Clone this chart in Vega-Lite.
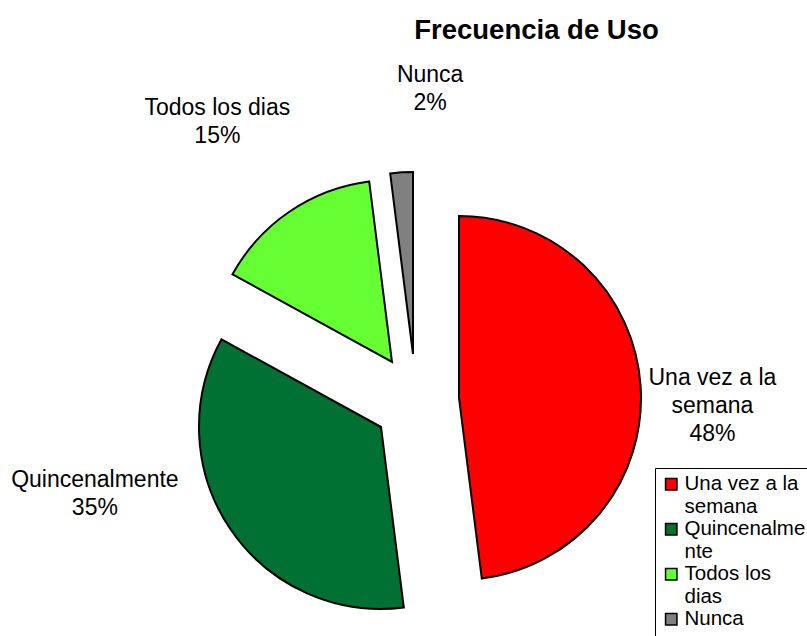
{
  "$schema": "https://vega.github.io/schema/vega-lite/v6.json",
  "width": 807,
  "height": 596,
  "padding": {"top": 40, "left": 0, "right": 0, "bottom": 0},
  "autosize": {"type": "none"},
  "background": "white",
  "title": {"text": "Frecuencia de Uso", "fontSize": 27.5, "fontWeight": "bold", "font": "Liberation Sans", "anchor": "middle", "dx": 133, "dy": 48, "color": "black", "offset": 4},
  "data": {"values": [
    {"categoria": "Una vez a la semana", "porcentaje": 48, "etiqueta": "Una vez a la|semana|48%"},
    {"categoria": "Quincenalmente", "porcentaje": 35, "etiqueta": "Quincenalmente|35%"},
    {"categoria": "Todos los dias", "porcentaje": 15, "etiqueta": "Todos los dias|15%"},
    {"categoria": "Nunca", "porcentaje": 2, "etiqueta": "Nunca|2%"}
  ]},
  "encoding": {
    "theta": {"field": "porcentaje", "type": "quantitative", "stack": true},
    "order": {"field": "porcentaje", "type": "quantitative", "sort": "descending"},
    "color": {"field": "categoria", "type": "nominal",
      "scale": {"domain": ["Una vez a la semana", "Quincenalmente", "Todos los dias", "Nunca"], "range": ["#FF0000", "#007033", "#66FF33", "#808080"]},
      "legend": {"title": null, "orient": "none", "legendX": 655, "legendY": 428, "strokeColor": "black", "fillColor": "white", "padding": 6, "symbolType": "square", "symbolSize": 130, "symbolStrokeColor": "black", "symbolStrokeWidth": 1.5, "symbolOpacity": 1, "labelFont": "Liberation Sans", "labelFontSize": 20.5, "labelColor": "black", "labelLimit": 200, "rowPadding": 1, "labelOffset": 3,
        "labelExpr": "datum.label == 'Una vez a la semana' ? ['Una vez a la', 'semana'] : datum.label == 'Quincenalmente' ? ['Quincenalme', 'nte'] : datum.label == 'Todos los dias' ? ['Todos los', 'dias'] : datum.label"}
    }
  },
  "layer": [
    {"mark": {"type": "arc", "outerRadius": 182, "stroke": "black", "strokeWidth": 2, "xOffset": 55.5, "yOffset": 60},
     "encoding": {"opacity": {"condition": {"test": "datum.categoria === 'Una vez a la semana'", "value": 1}, "value": 0}}},
    {"mark": {"type": "arc", "outerRadius": 182, "stroke": "black", "strokeWidth": 2, "xOffset": -22.5, "yOffset": 89},
     "encoding": {"opacity": {"condition": {"test": "datum.categoria === 'Quincenalmente'", "value": 1}, "value": 0}}},
    {"mark": {"type": "arc", "outerRadius": 182, "stroke": "black", "strokeWidth": 2, "xOffset": -11.5, "yOffset": 24},
     "encoding": {"opacity": {"condition": {"test": "datum.categoria === 'Todos los dias'", "value": 1}, "value": 0}}},
    {"mark": {"type": "arc", "outerRadius": 182, "stroke": "black", "strokeWidth": 2, "xOffset": 9.5, "yOffset": 16},
     "encoding": {"opacity": {"condition": {"test": "datum.categoria === 'Nunca'", "value": 1}, "value": 0}}},
    {"mark": {"type": "text", "radius": 300, "font": "Liberation Sans", "fontSize": 23, "lineBreak": "|", "lineHeight": 28, "align": "center", "baseline": "middle", "xOffset": 12.5, "yOffset": 65, "dx": -3, "dy": -6},
     "encoding": {"text": {"field": "etiqueta"}, "color": {"value": "black"}, "opacity": {"condition": {"test": "datum.categoria === 'Una vez a la semana'", "value": 1}, "value": 0}}},
    {"mark": {"type": "text", "radius": 300, "font": "Liberation Sans", "fontSize": 23, "lineBreak": "|", "lineHeight": 28, "align": "center", "baseline": "middle", "xOffset": 12.5, "yOffset": 65, "dx": -73, "dy": -92},
     "encoding": {"text": {"field": "etiqueta"}, "color": {"value": "black"}, "opacity": {"condition": {"test": "datum.categoria === 'Quincenalmente'", "value": 1}, "value": 0}}},
    {"mark": {"type": "text", "radius": 300, "font": "Liberation Sans", "fontSize": 23, "lineBreak": "|", "lineHeight": 28, "align": "center", "baseline": "middle", "xOffset": 12.5, "yOffset": 65, "dx": -30, "dy": -47},
     "encoding": {"text": {"field": "etiqueta"}, "color": {"value": "black"}, "opacity": {"condition": {"test": "datum.categoria === 'Todos los dias'", "value": 1}, "value": 0}}},
    {"mark": {"type": "text", "radius": 300, "font": "Liberation Sans", "fontSize": 23, "lineBreak": "|", "lineHeight": 28, "align": "center", "baseline": "middle", "xOffset": 12.5, "yOffset": 65, "dx": 33, "dy": -29},
     "encoding": {"text": {"field": "etiqueta"}, "color": {"value": "black"}, "opacity": {"condition": {"test": "datum.categoria === 'Nunca'", "value": 1}, "value": 0}}}
  ],
  "config": {"view": {"stroke": null}}
}
